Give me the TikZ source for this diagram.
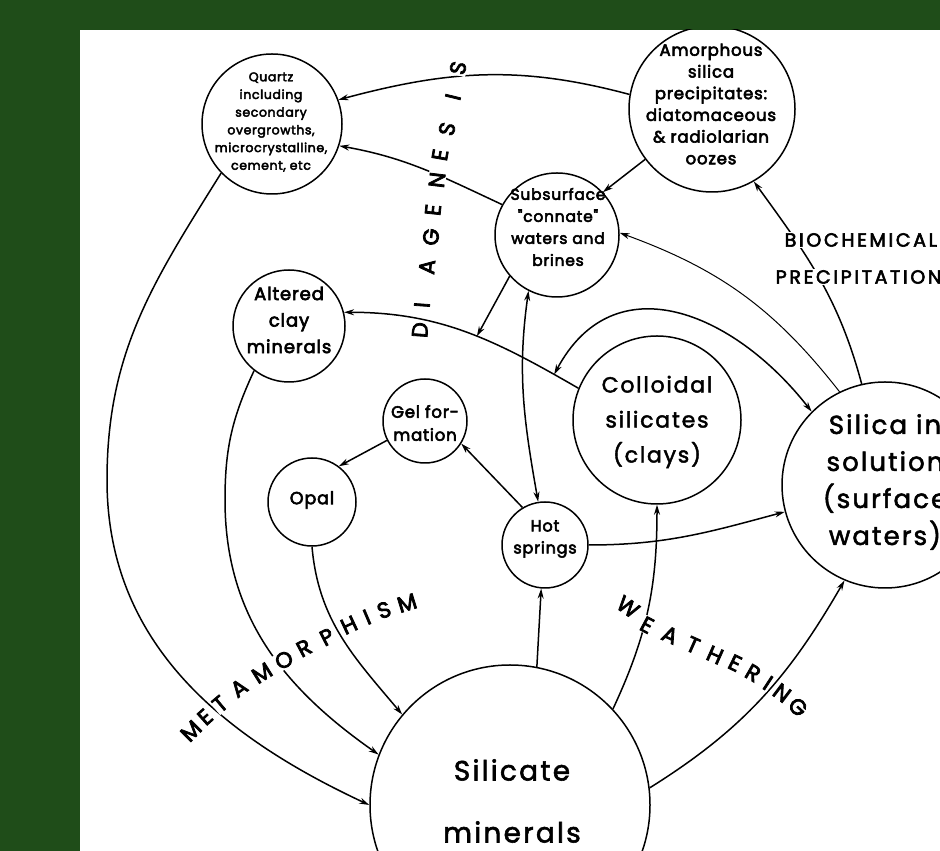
\documentclass[tikz,border=0pt]{standalone}
\usepackage{fontspec}
\setmainfont{Poppins}[LetterSpace=8, FakeBold=2]
\newfontfamily\heavy{Poppins}[LetterSpace=5, FakeBold=3.5]
\newfontfamily\spaced{Poppins}[LetterSpace=14, FakeBold=3]
\usetikzlibrary{arrows.meta}
\definecolor{moss}{RGB}{31,77,25}
\newcommand\fsz[2]{\fontsize{#1}{#2}\selectfont}
\tikzset{stage/.style={draw, circle, inner sep=0pt},
  txt/.style={align=center, inner sep=0pt},
  flow/.style={-{Stealth[length=10pt,width=6pt]}},
  twoway/.style={{Stealth[length=10pt,width=6pt]}-{Stealth[length=10pt,width=6pt]}},
  word/.style={fill=white, inner sep=1pt, font=\heavy\fsz{22}{22}},
  caps/.style={fill=white, inner sep=1pt, anchor=west, font=\spaced\fsz{19}{19}}}

\begin{document}
\begin{tikzpicture}[x=1pt,y=1pt,line width=1.5pt]
  \useasboundingbox (0,0) rectangle (940,851);
  \fill[moss] (0,0) rectangle (940,851);
  \fill[white] (80,0) rectangle (940,821);
  \begin{scope}
   \clip (80,0) rectangle (940,821);
   \node[stage, minimum size=140pt] (quartz)   at (272,727) {};
   \node[stage, minimum size=166pt] (amorph)   at (712,742) {};
   \node[stage, minimum size=124pt] (subsurf)  at (557,616) {};
   \node[stage, minimum size=112pt] (altered)  at (289,525) {};
   \node[stage, minimum size=84pt]  (gel)      at (425,430) {};
   \node[stage, minimum size=88pt]  (opal)     at (312,349) {};
   \node[stage, minimum size=86pt]  (hot)      at (545,306) {};
   \node[stage, minimum size=168pt] (coll)     at (657,431) {};
   \node[stage, minimum size=206pt] (silica)   at (885,366) {};
   \node[stage, minimum size=280pt] (silicate) at (510,46) {};

   \node[txt, font=\heavy\fsz{12.5}{17.7}] (quartz-t) at (271,729) {Quartz\\including\\secondary\\overgrowths,\\microcrystalline,\\cement, etc};
   \node[txt, font=\heavy\fsz{16.5}{21.7}] (amorph-t) at (711,747) {Amorphous\\silica\\precipitates:\\diatomaceous\\\& radiolarian\\oozes};
   \node[txt, font=\heavy\fsz{15.5}{22}] (subsurf-t) at (558,624) {Subsurface\\"connate"\\waters and\\brines};
   \node[txt, font=\heavy\fsz{18}{26.5}] (altered-t) at (289,531) {Altered\\clay\\minerals};
   \node[txt, font=\heavy\fsz{16.5}{23}] (gel-t) at (425,428) {Gel for-\\mation};
   \node[txt, font=\heavy\fsz{17.5}{22}] (opal-t) at (312,351) {Opal};
   \node[txt, font=\heavy\fsz{16}{22}] (hot-t) at (545,312) {Hot\\springs};
   \node[txt, font=\fsz{22}{35}] (coll-t) at (657,429) {Colloidal\\silicates\\(clays)};
   \node[txt, font=\fsz{26}{37}] (silica-t) at (885,369) {Silica in\\solution\\(surface\\waters)};
   \node[txt, font=\fsz{28}{62}] (silicate-t) at (512,50) {Silicate\\minerals};

   \coordinate (bendq) at (107,371);
   \coordinate (benda) at (225,351);

   \draw[flow] (amorph.170) to[out=165,in=15] (quartz.20);
   \draw[flow] (subsurf.151) to[out=155,in=-10] (quartz.-18);
   \draw[flow] (coll.158) to[out=150,in=0] coordinate[pos=0.1] (ring) coordinate[pos=0.45] (seep) (altered.14);
   \draw[flow] (subsurf.221) -- (seep);
   \draw[twoway] (subsurf.243) to[out=262,in=100] (hot.99);
   \draw[flow] (hot.121) -- (gel.-32);
   \draw[flow] (gel.207) -- (opal.53);
   \draw[flow] (hot.east) to[out=0,in=195] (silica.195);
   \draw[flow] (silicate.43) to[out=65,in=-90] (coll.-90);
   \draw[flow] (silicate.79) -- (hot.-95);
   \draw[flow] (silicate.7) to[out=32,in=240] (silica.247);
   \draw[flow] (quartz.224) to[out=238,in=90] (bendq) to[out=-90,in=155] (silicate.180);
   \draw[flow] (altered.232) to[out=245,in=90] (benda) to[out=-90,in=145] (silicate.159);
   \draw[flow] (opal.-90) to[out=-85,in=130] (silicate.140);
   \draw[flow] (amorph.217) -- (subsurf.43);
   \draw[flow, line width=1pt] (silica.116) to[out=128,in=-20] (subsurf.2);
   \draw[flow] (silica.103) to[out=105,in=-54] (amorph.-60);
   \draw[twoway] (ring) to[out=62,in=128,looseness=1.25] (silica.135);

   \foreach \ch/\x/\y/\r [count=\i] in {D/420/521/86, I/422/546/86, A/427/584/85, G/431/614/85, E/433/641/84,
       N/437/671/83, E/440/696/80, S/447/722/77, I/453/754/76, S/458/783/78}
     \node[word, rotate=\r] (dia\i) at (\x,\y) {\ch};
   \foreach \ch/\x/\y/\r [count=\i] in {M/191/120/45, E/205/134/42, T/220/147/40, A/239/163/36, M/262/178/32, O/284/191/30,
       R/304/203/28, P/327/214/27, H/349/226/25, I/367/234/23, S/384/241/20, M/407/248/17}
     \node[word, rotate=\r] (meta\i) at (\x,\y) {\ch};
   \foreach \ch/\x/\y/\r [count=\i] in {W/628/244/-35, E/647/226/-28, A/670/216/-24, T/693/206/-24, H/715/196/-24,
       E/735/188/-26, R/753/178/-30, I/768/168/-33, N/782/158/-37, G/798/144/-42}
     \node[word, rotate=\r] (weath\i) at (\x,\y) {\ch};
   \node[caps] (bio) at (783,611) {BIOCHEMICAL};
   \node[caps] (precip) at (774,574) {PRECIPITATION};
  \end{scope}
\end{tikzpicture}
\end{document}
